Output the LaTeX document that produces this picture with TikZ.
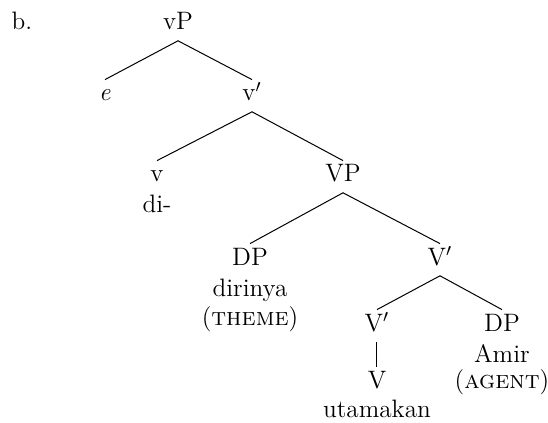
\documentclass[tikz,border=0pt]{standalone}
\usepackage{tikz}
\usetikzlibrary{positioning}

\begin{document}
\begin{tikzpicture}[
  x=0.5pt, y=-0.5pt,
  every node/.style={font=\fontsize{12.6}{15}\selectfont},
  cat/.style={anchor=base, inner xsep=0pt, inner ysep=3pt, text height=0.75em, text depth=0.22em},
  word/.style={anchor=base, inner sep=0pt},
  branch/.style={line width=0.5pt}
]
  \useasboundingbox (0,0) rectangle (548,423);

  % example label
  \node[word] (exlabel) at (22, 30) {b.};

  % upper shell
  \node[cat] (vP) at (178, 30) {vP};
  \node[cat] (spec) at (105, 101) {\textit{e}};
  \node[cat] (vbar) at (252, 101) {v$'$};
  \node[cat] (vhead) at (157, 182) {v};
  \node[word] (di) at (157, 213) {di-};

  % lower shell
  \node[cat] (VP) at (343, 182) {VP};
  \node[cat] (theme) at (250, 265) {DP};
  \node[word] (dirinya) at (250, 297) {dirinya};
  \node[word] (themerole) at (250, 326) {(\textsc{theme})};
  \node[cat] (Vbar) at (440, 265) {V$'$};
  \node[cat] (Vbarlow) at (377, 331) {V$'$};
  \node[cat] (Vhead) at (377, 388) {V};
  \node[word] (utamakan) at (377, 417) {utamakan};
  \node[cat] (agent) at (502, 331) {DP};
  \node[word] (amir) at (502, 363) {Amir};
  \node[word] (agentrole) at (502, 388) {(\textsc{agent})};

  % branches
  \draw[branch] (spec.north) -- (vP.south) -- (vbar.north);
  \draw[branch] (vhead.north) -- (vbar.south) -- (VP.north);
  \draw[branch] (theme.north) -- (VP.south) -- (Vbar.north);
  \draw[branch] (Vbarlow.north) -- (Vbar.south) -- (agent.north);
  \draw[branch] (Vbarlow.south) -- (Vhead.north);
\end{tikzpicture}
\end{document}
